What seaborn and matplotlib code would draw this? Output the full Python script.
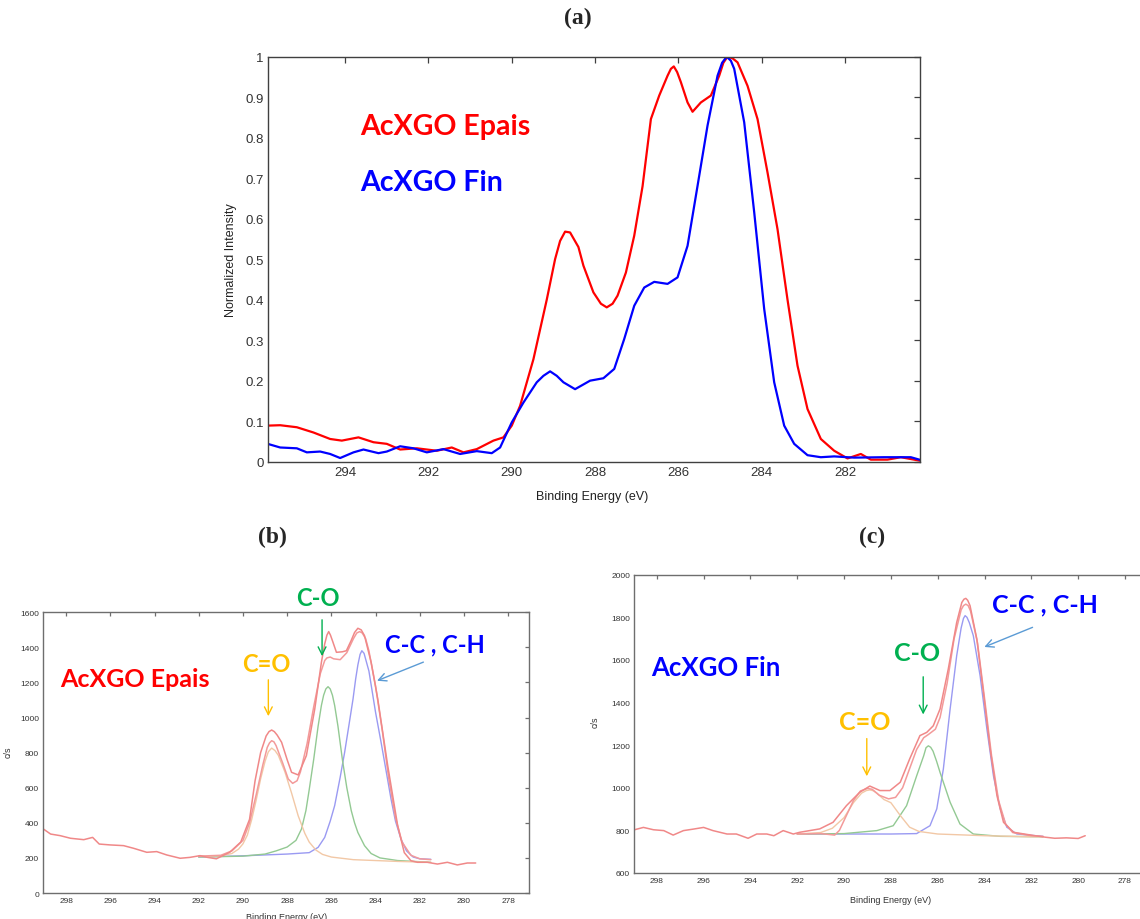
import matplotlib
matplotlib.use("Agg")
import matplotlib.pyplot as plt
import seaborn as sns

# ---------------- (a) normalized C1s spectra ----------------
a_red_x = [295.86, 295.56, 295.16, 294.76, 294.36, 294.08, 293.68, 293.32, 293.0, 292.68,
           292.28, 291.8, 291.44, 291.16, 290.84, 290.44, 290.2, 290.0, 289.8, 289.48,
           289.16, 288.96, 288.84, 288.72, 288.6, 288.4, 288.28, 288.04, 287.86, 287.72,
           287.58, 287.46, 287.26, 287.06, 286.86, 286.66, 286.46, 286.26, 286.18, 286.11,
           286.03, 285.94, 285.78, 285.66, 285.46, 285.22, 285.02, 284.92, 284.82, 284.7,
           284.58, 284.34, 284.1, 283.86, 283.62, 283.38, 283.14, 282.9, 282.58, 282.26,
           281.94, 281.62, 281.38, 280.98, 280.66, 280.18]
a_red_y = [0.089, 0.09, 0.085, 0.072, 0.056, 0.052, 0.06, 0.048, 0.044, 0.03,
           0.033, 0.027, 0.035, 0.023, 0.031, 0.052, 0.06, 0.089, 0.138, 0.253,
           0.40, 0.50, 0.545, 0.568, 0.566, 0.53, 0.484, 0.418, 0.39, 0.381,
           0.39, 0.41, 0.467, 0.558, 0.68, 0.846, 0.904, 0.953, 0.97, 0.976,
           0.962, 0.937, 0.887, 0.864, 0.887, 0.904, 0.953, 0.985, 1.0, 0.996,
           0.986, 0.928, 0.846, 0.714, 0.574, 0.40, 0.237, 0.13, 0.056, 0.027,
           0.008, 0.019, 0.005, 0.005, 0.011, 0.002]

a_blue_x = [295.86, 295.56, 295.16, 294.92, 294.6, 294.36, 294.12, 293.8, 293.56, 293.2,
            293.0, 292.68, 292.36, 292.04, 291.64, 291.24, 290.84, 290.48, 290.28, 290.0,
            289.72, 289.4, 289.24, 289.08, 288.92, 288.76, 288.48, 288.12, 287.8, 287.54,
            287.3, 287.06, 286.82, 286.58, 286.26, 286.02, 285.78, 285.54, 285.3, 285.06,
            284.95, 284.84, 284.74, 284.66, 284.42, 284.18, 283.94, 283.7, 283.46, 283.22,
            282.9, 282.58, 282.26, 281.78, 281.06, 280.42, 280.18]
a_blue_y = [0.044, 0.035, 0.033, 0.023, 0.025, 0.019, 0.009, 0.023, 0.03, 0.021,
            0.025, 0.038, 0.033, 0.023, 0.031, 0.019, 0.026, 0.021, 0.035, 0.097,
            0.146, 0.196, 0.212, 0.223, 0.212, 0.196, 0.179, 0.2, 0.206, 0.229,
            0.303, 0.385, 0.43, 0.444, 0.439, 0.455, 0.533, 0.681, 0.83, 0.953,
            0.985, 1.0, 0.99, 0.97, 0.838, 0.616, 0.377, 0.196, 0.089, 0.044,
            0.016, 0.011, 0.013, 0.01, 0.011, 0.011, 0.004]

# ---------------- (b) AcXGO Epais, fitted ----------------
b_data_x = [299.03, 298.7, 298.27, 297.8, 297.2, 296.8, 296.5, 296.0, 295.4, 294.95,
            294.35, 293.9, 293.45, 292.84, 292.4, 291.94, 291.6, 291.2, 290.6, 290.1,
            289.7, 289.45, 289.2, 288.95, 288.82, 288.7, 288.58, 288.45, 288.25, 288.0,
            287.8, 287.5, 287.13, 286.75, 286.45, 286.3, 286.2, 286.12, 286.04, 285.95,
            285.77, 285.5, 285.32, 285.1, 284.95, 284.8, 284.65, 284.5, 284.2, 283.9,
            283.45, 283.0, 282.7, 282.4, 282.1, 281.66, 281.2, 280.75, 280.3, 279.85,
            279.47]
b_data_y = [365, 336, 327, 312, 304, 317, 279, 274, 270, 255,
            232, 236, 217, 198, 203, 213, 203, 195, 232, 290,
            420, 640, 800, 895, 920, 929, 920, 900, 859, 760,
            688, 673, 783, 1049, 1315, 1420, 1470, 1490, 1470, 1438,
            1372, 1375, 1381, 1440, 1485, 1509, 1500, 1467, 1315, 1105,
            726, 384, 230, 184, 175, 175, 165, 175, 160, 171,
            171]

b_fit_x = [292.0, 291.0, 290.5, 290.0, 289.7, 289.4, 289.1, 288.9, 288.8, 288.7,
           288.6, 288.5, 288.2, 287.95, 287.75, 287.55, 287.4, 287.1, 286.8, 286.5,
           286.3, 286.2, 286.05, 285.9, 285.6, 285.3, 285.0, 284.85, 284.72, 284.6,
           284.45, 284.3, 284.0, 283.7, 283.4, 283.1, 282.8, 282.4, 282.0, 281.5]
b_fit_y = [210, 215, 240, 300, 400, 560, 730, 830, 855, 868,
           862, 840, 740, 650, 625, 640, 690, 850, 1060, 1250,
           1325, 1340, 1345, 1335, 1330, 1370, 1450, 1482, 1490, 1482,
           1450, 1380, 1180, 930, 650, 430, 290, 215, 195, 190]

b_co2_x = [292.0, 291.0, 290.5, 290.2, 290.0, 289.8, 289.6, 289.4, 289.2, 289.0,
           288.85, 288.7, 288.55, 288.4, 288.1, 287.8, 287.5, 287.2, 287.0, 286.7,
           286.4, 286.0, 285.0, 284.0, 283.0, 281.5]
b_co2_y = [208, 212, 225, 250, 280, 330, 420, 530, 650, 750,
           805, 826, 812, 785, 690, 570, 440, 340, 290, 245,
           220, 205, 190, 185, 180, 175]

b_co_x = [292.0, 290.0, 289.0, 288.5, 288.0, 287.6, 287.35, 287.15, 287.0, 286.8,
          286.6, 286.45, 286.35, 286.25, 286.15, 286.05, 285.95, 285.85, 285.7, 285.5,
          285.3, 285.1, 284.95, 284.8, 284.5, 284.2, 283.8, 283.0, 281.5]
b_co_y = [205, 210, 222, 240, 262, 300, 365, 470, 590, 760,
          950, 1069, 1127, 1163, 1176, 1163, 1127, 1069, 950, 760,
          600, 470, 400, 345, 270, 225, 200, 185, 175]

b_cc_x = [292.0, 290.0, 288.0, 287.0, 286.6, 286.3, 286.05, 285.85, 285.6, 285.4,
          285.2, 285.02, 284.9, 284.8, 284.7, 284.62, 284.52, 284.42, 284.3, 284.2,
          284.0, 283.75, 283.5, 283.3, 283.1, 282.85, 282.6, 282.3, 282.0, 281.5]
b_cc_y = [205, 212, 222, 230, 260, 317, 410, 498, 660, 801,
          960, 1105, 1220, 1300, 1360, 1381, 1366, 1320, 1265, 1187,
          1030, 859, 680, 536, 410, 308, 240, 205, 195, 192]

# ---------------- (c) AcXGO Fin, fitted ----------------
c_data_x = [298.95, 298.57, 298.14, 297.7, 297.3, 296.86, 296.44, 296.0, 295.6, 295.0,
            294.6, 294.1, 293.73, 293.3, 293.0, 292.6, 292.17, 291.9, 291.04, 290.47,
            289.9, 289.33, 288.9, 288.47, 288.04, 287.6, 287.2, 286.76, 286.47, 286.19,
            285.9, 285.55, 285.19, 284.97, 284.88, 284.8, 284.72, 284.62, 284.33, 284.05,
            283.76, 283.47, 283.19, 282.76, 281.9, 281.4, 281.0, 280.5, 280.0, 279.7]
c_data_y = [803, 814, 803, 799, 778, 799, 806, 814, 799, 783,
            783, 763, 783, 783, 775, 799, 783, 791, 807, 838,
            916, 979, 1008, 987, 987, 1026, 1135, 1245, 1260, 1291,
            1370, 1557, 1776, 1870, 1885, 1889, 1880, 1855, 1698, 1448,
            1182, 963, 838, 791, 776, 768, 763, 765, 762, 775]

c_fit_x = [292.0, 291.0, 290.4, 290.2, 289.9, 289.6, 289.3, 289.0, 288.8, 288.5,
           288.1, 287.8, 287.5, 287.2, 286.9, 286.6, 286.4, 286.1, 285.9, 285.6,
           285.3, 285.0, 284.9, 284.8, 284.7, 284.6, 284.3, 284.0, 283.7, 283.4,
           283.1, 282.8, 282.0, 281.5]
c_fit_y = [783, 785, 778, 800, 870, 940, 985, 997, 993, 965,
           948, 955, 1000, 1090, 1180, 1235, 1250, 1275, 1330, 1490,
           1700, 1835, 1855, 1862, 1855, 1830, 1680, 1420, 1150, 940,
           830, 790, 775, 772]

c_co2_x = [292.0, 291.0, 290.5, 290.0, 289.6, 289.25, 289.05, 288.9, 288.75, 288.6,
           288.3, 288.0, 287.6, 287.2, 286.8, 286.0, 284.0, 282.0, 281.5]
c_co2_y = [783, 790, 810, 860, 930, 975, 987, 990, 986, 975,
           945, 930, 870, 815, 795, 783, 775, 770, 770]

c_co_x = [292.0, 290.0, 289.0, 288.6, 287.9, 287.33, 286.9, 286.6, 286.5, 286.4,
          286.3, 286.2, 286.05, 285.9, 285.47, 285.05, 284.48, 283.33, 281.5]
c_co_y = [783, 785, 795, 799, 822, 916, 1056, 1150, 1188, 1197,
          1190, 1172, 1125, 1072, 932, 830, 783, 772, 770]

c_cc_x = [292.0, 288.0, 286.9, 286.33, 286.04, 285.76, 285.47, 285.19, 285.0, 284.9,
          284.83, 284.75, 284.65, 284.48, 284.19, 283.9, 283.62, 283.33, 283.05, 282.62,
          281.5]
c_cc_y = [783, 783, 785, 822, 901, 1088, 1370, 1620, 1750, 1795,
          1808, 1800, 1775, 1714, 1526, 1276, 1056, 901, 815, 783,
          772]

# ---------------- style ----------------
sns.set_style("white")
plt.rcParams['font.family'] = ['Liberation Sans', 'DejaVu Sans']
plt.rcParams['axes.linewidth'] = 1.0

RED = '#ff0000'
BLUE = '#0000ff'
ORANGE = '#ffc000'
GREEN = '#00b050'
ARROW_BLUE = '#5b9bd5'
LABEL_FONT = ['Lato', 'DejaVu Sans']

fig = plt.figure(figsize=(11.4, 9.2), dpi=100)

ax_a = fig.add_axes([0.2348, 0.4971, 0.5722, 0.4402])
ax_b = fig.add_axes([0.0380, 0.02826, 0.4260, 0.3051])
ax_c = fig.add_axes([0.5564, 0.0500, 0.4510, 0.3242])


def matlab_box(ax, fs, spine_col, tick_len):
    for s in ax.spines.values():
        s.set_color(spine_col)
        s.set_visible(True)
    ax.tick_params(direction='in', top=True, right=True, length=tick_len,
                   width=0.9, color=spine_col, labelsize=fs, labelcolor='#333333', pad=3)


# (a)
sns.lineplot(x=a_red_x, y=a_red_y, color=RED, lw=1.6, ax=ax_a, sort=False)
sns.lineplot(x=a_blue_x, y=a_blue_y, color=BLUE, lw=1.6, ax=ax_a, sort=False)
for ln in ax_a.lines:
    ln.set_solid_joinstyle('round')
ax_a.set_xlim(295.86, 280.2)
ax_a.set_ylim(0, 1)
ax_a.set_xticks([294, 292, 290, 288, 286, 284, 282])
ax_a.set_yticks([0, 0.1, 0.2, 0.3, 0.4, 0.5, 0.6, 0.7, 0.8, 0.9, 1])
ax_a.set_yticklabels(['0', '0.1', '0.2', '0.3', '0.4', '0.5', '0.6', '0.7', '0.8', '0.9', '1'])
matlab_box(ax_a, 9.5, '#404040', 4)
ax_a.set_xlabel('Binding Energy (eV)', fontsize=9, color='#222222')
ax_a.set_ylabel('Normalized Intensity', fontsize=9, color='#222222')
ax_a.xaxis.set_label_coords(0.497, -0.07)
ax_a.yaxis.set_label_coords(-0.047, 0.5)
ax_a.text(293.64, 0.829, 'AcXGO Epais', color=RED, fontsize=20.5, fontweight='bold',
          family=LABEL_FONT, ha='left', va='center')
ax_a.text(293.64, 0.69, 'AcXGO Fin', color=BLUE, fontsize=20.5, fontweight='bold',
          family=LABEL_FONT, ha='left', va='center')


def fit_panel(ax, data_x, data_y, fit_x, fit_y, co2, co, cc):
    sns.lineplot(x=cc[0], y=cc[1], color='#9a9af2', lw=1.0, ax=ax, sort=False)
    sns.lineplot(x=co[0], y=co[1], color='#93c993', lw=1.0, ax=ax, sort=False)
    sns.lineplot(x=co2[0], y=co2[1], color='#f2c8a6', lw=1.0, ax=ax, sort=False)
    sns.lineplot(x=fit_x, y=fit_y, color='#f39a9a', lw=1.1, ax=ax, sort=False)
    sns.lineplot(x=data_x, y=data_y, color='#f08888', lw=1.1, ax=ax, sort=False)
    for ln in ax.lines:
        ln.set_solid_joinstyle('round')


# (b)
fit_panel(ax_b, b_data_x, b_data_y, b_fit_x, b_fit_y,
          (b_co2_x, b_co2_y), (b_co_x, b_co_y), (b_cc_x, b_cc_y))
ax_b.set_xlim(299.03, 277.06)
ax_b.set_ylim(0, 1600)
ax_b.set_xticks(list(range(298, 277, -2)))
ax_b.set_yticks(list(range(0, 1601, 200)))
matlab_box(ax_b, 6, '#6e6e6e', 3)
ax_b.set_xlabel('Binding Energy (eV)', fontsize=6.5, color='#333333')
ax_b.set_ylabel('c/s', fontsize=6.5, color='#333333')
ax_b.xaxis.set_label_coords(0.5, -0.068)
ax_b.yaxis.set_label_coords(-0.063, 0.506)

ax_b.text(298.25, 1220, 'AcXGO Epais', color=RED, fontsize=18, fontweight='bold',
          family=LABEL_FONT, ha='left', va='center')
ax_b.text(288.93, 1311, 'C=O', color=ORANGE, fontsize=17, fontweight='bold',
          family=LABEL_FONT, ha='center', va='center')
ax_b.annotate('', xy=(288.85, 992), xytext=(288.85, 1231),
              arrowprops=dict(arrowstyle='->', color=ORANGE, lw=1.0, mutation_scale=14))
ax_b.text(286.63, 1687, 'C-O', color=GREEN, fontsize=17, fontweight='bold',
          family=LABEL_FONT, ha='center', va='center')
ax_b.annotate('', xy=(286.42, 1334), xytext=(286.42, 1573),
              arrowprops=dict(arrowstyle='->', color=GREEN, lw=1.0, mutation_scale=14))
ax_b.text(281.32, 1419, 'C-C , C-H', color=BLUE, fontsize=17, fontweight='bold',
          family=LABEL_FONT, ha='center', va='center')
ax_b.annotate('', xy=(284.05, 1204), xytext=(281.72, 1322),
              arrowprops=dict(arrowstyle='->', color=ARROW_BLUE, lw=1.0, mutation_scale=14))

# (c)
fit_panel(ax_c, c_data_x, c_data_y, c_fit_x, c_fit_y,
          (c_co2_x, c_co2_y), (c_co_x, c_co_y), (c_cc_x, c_cc_y))
ax_c.set_xlim(298.96, 277.0)
ax_c.set_ylim(600, 2000)
ax_c.set_xticks(list(range(298, 277, -2)))
ax_c.set_yticks(list(range(600, 2001, 200)))
matlab_box(ax_c, 6, '#6e6e6e', 3)
ax_c.set_xlabel('Binding Energy (eV)', fontsize=6.5, color='#333333')
ax_c.set_ylabel('c/s', fontsize=6.5, color='#333333')
ax_c.xaxis.set_label_coords(0.4994, -0.074)
ax_c.yaxis.set_label_coords(-0.067, 0.51)

ax_c.text(298.22, 1567, 'AcXGO Fin', color=BLUE, fontsize=18.5, fontweight='bold',
          family=LABEL_FONT, ha='left', va='center')
ax_c.text(289.11, 1313, 'C=O', color=ORANGE, fontsize=18, fontweight='bold',
          family=LABEL_FONT, ha='center', va='center')
ax_c.annotate('', xy=(289.03, 1041), xytext=(289.03, 1244),
              arrowprops=dict(arrowstyle='->', color=ORANGE, lw=1.0, mutation_scale=14))
ax_c.text(286.9, 1637, 'C-O', color=GREEN, fontsize=18, fontweight='bold',
          family=LABEL_FONT, ha='center', va='center')
ax_c.annotate('', xy=(286.62, 1331), xytext=(286.62, 1534),
              arrowprops=dict(arrowstyle='->', color=GREEN, lw=1.0, mutation_scale=14))
ax_c.text(281.41, 1862, 'C-C , C-H', color=BLUE, fontsize=18, fontweight='bold',
          family=LABEL_FONT, ha='center', va='center')
ax_c.annotate('', xy=(284.12, 1656), xytext=(281.84, 1758),
              arrowprops=dict(arrowstyle='->', color=ARROW_BLUE, lw=1.0, mutation_scale=14))

# panel letters
for letter, px, py in [('(a)', 578, 18), ('(b)', 272, 537), ('(c)', 872, 537)]:
    fig.text(px / 1140, 1 - py / 920, letter, fontsize=17, fontweight='bold',
             family=['Liberation Serif', 'DejaVu Serif'], ha='center', va='center')

fig.savefig('out.png', dpi=100)
